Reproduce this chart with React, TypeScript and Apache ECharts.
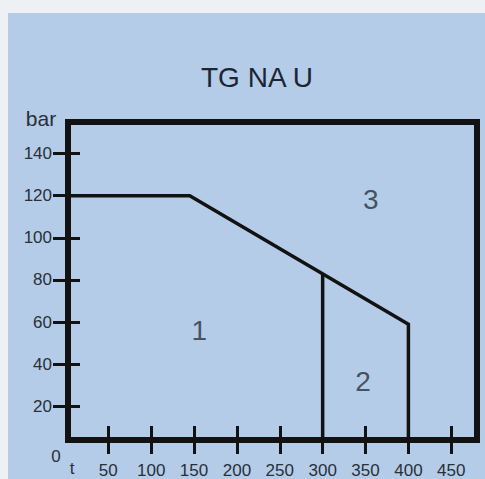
import React, { useEffect, useRef } from "react";
import * as echarts from "echarts";

const chartTitle = "TG NA U";
const xTicks = [50, 100, 150, 200, 250, 300, 350, 400, 450];
const yTicks = [20, 40, 60, 80, 100, 120, 140];
const xRange = [3, 480];
const yRange = [4, 155];
const boundary = [
  [0, 120],
  [145, 120],
  [400, 59],
  [400, 0],
];
const divider = [
  [300, 83],
  [300, 0],
];
const regionNames = ["1", "2", "3"];
const regionX = [156, 347, 356];
const regionY = [56, 32, 118];
const yName = "bar";
const xName = "t";
const originLabel = "0";

const FONT = "'Liberation Sans', Arial, sans-serif";
const INK = "#121212";
const TEXT = "#283038";

export default function App() {
  const ref = useRef<HTMLDivElement>(null);
  useEffect(() => {
    if (!ref.current) return;
    const chart = echarts.init(ref.current, undefined, { renderer: "svg" });
    chart.setOption({
      animation: false,
      backgroundColor: "#b4cce8",
      textStyle: { fontFamily: FONT },
      grid: {
        left: 68,
        right: 8,
        top: 122,
        bottom: 36,
        show: true,
        borderColor: INK,
        borderWidth: 6,
        backgroundColor: "transparent",
      },
      xAxis: {
        type: "value",
        min: xRange[0],
        max: xRange[1],
        position: "bottom",
        offset: -14,
        axisLine: { show: false },
        splitLine: { show: false },
        axisTick: {
          show: true,
          customValues: xTicks,
          length: 28,
          lineStyle: { color: INK, width: 3 },
        },
        axisLabel: {
          customValues: xTicks,
          margin: 36,
          fontSize: 17,
          color: TEXT,
          fontFamily: FONT,
        },
      },
      yAxis: {
        type: "value",
        min: yRange[0],
        max: yRange[1],
        position: "left",
        offset: -12,
        axisLine: { show: false },
        splitLine: { show: false },
        axisTick: {
          show: true,
          customValues: yTicks,
          length: 27,
          lineStyle: { color: INK, width: 3 },
        },
        axisLabel: {
          customValues: yTicks,
          margin: 28,
          fontSize: 17,
          color: TEXT,
          fontFamily: FONT,
        },
      },
      graphic: [
        { type: "rect", shape: { x: 0, y: 0, width: 485, height: 13 }, style: { fill: "#eef1f4" }, silent: true },
        { type: "rect", shape: { x: 0, y: 0, width: 8, height: 479 }, style: { fill: "#eef1f4" }, silent: true },
        {
          type: "text",
          x: 257,
          y: 77,
          style: { text: chartTitle, fontSize: 28, fontFamily: FONT, fill: "#1c2633", align: "center", verticalAlign: "middle" },
        },
        {
          type: "text",
          x: 41,
          y: 118,
          style: { text: yName, fontSize: 21, fontFamily: FONT, fill: TEXT, align: "center", verticalAlign: "middle" },
        },
        {
          type: "text",
          x: 56,
          y: 456,
          style: { text: originLabel, fontSize: 17, fontFamily: FONT, fill: TEXT, align: "center", verticalAlign: "middle" },
        },
        {
          type: "text",
          x: 72,
          y: 468,
          style: { text: xName, fontSize: 17, fontFamily: FONT, fill: TEXT, align: "center", verticalAlign: "middle" },
        },
      ],
      series: [
        {
          type: "line",
          data: boundary,
          symbol: "none",
          lineStyle: { color: INK, width: 3.5, join: "miter" },
          z: 3,
        },
        {
          type: "line",
          data: divider,
          symbol: "none",
          lineStyle: { color: INK, width: 3.5 },
          z: 3,
        },
        {
          type: "scatter",
          data: regionNames.map((n, i) => ({ name: n, value: [regionX[i], regionY[i]] })),
          symbol: "circle",
          symbolSize: 1,
          itemStyle: { color: "transparent" },
          label: {
            show: true,
            position: "inside",
            formatter: (p: any) => p.name,
            fontSize: 28,
            fontFamily: FONT,
            color: TEXT,
          },
        },
      ],
    });
    return () => chart.dispose();
  }, []);
  return (
    <div
      ref={ref}
      style={{ position: "fixed", left: 0, top: 0, width: 485, height: 479 }}
    />
  );
}
